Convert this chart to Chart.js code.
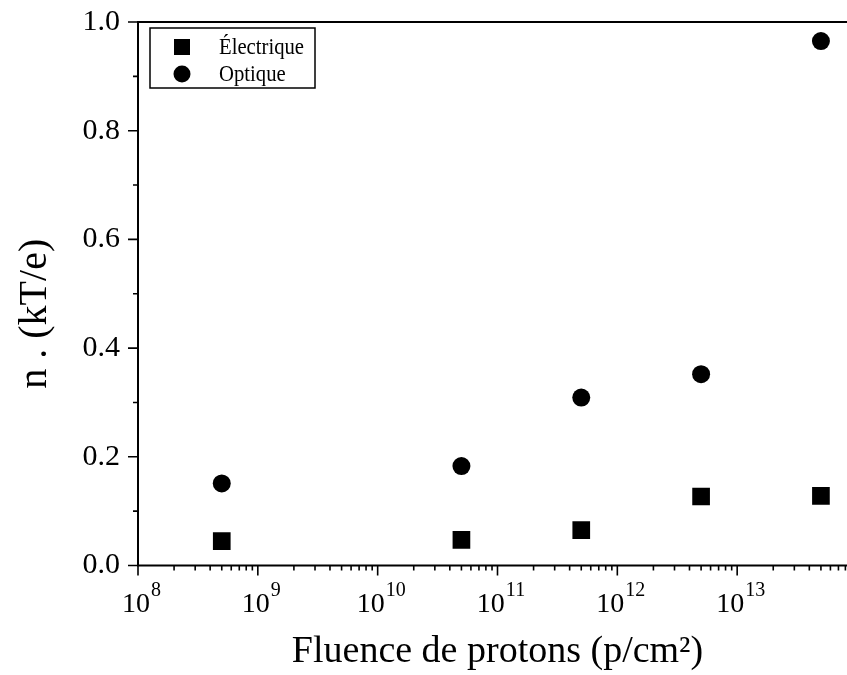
<!DOCTYPE html>
<html>
<head>
<meta charset="utf-8">
<script src="https://cdn.jsdelivr.net/npm/chart.js@4"></script>
<style>
  html, body { margin: 0; padding: 0; overflow: hidden; background: #fff; }
  #wrap { width: 870px; height: 675px; }
</style>
</head>
<body>
<div id="wrap"><canvas id="nChart" width="870" height="675"></canvas></div>
<script>
// fluence (p/cm2) and ideality factor n
const fluence = [5e8, 5e10, 5e11, 5e12, 5e13];
const electrique = [0.045, 0.047, 0.065, 0.127, 0.128];
const optique = [0.151, 0.183, 0.309, 0.352, 0.965];

const xExponents = [8, 9, 10, 11, 12, 13];
const yLabels = ["0.0", "0.2", "0.4", "0.6", "0.8", "1.0"];

const serif = "'Liberation Serif', 'Times New Roman', serif";

// all log ticks 1..9 x 10^n, majors on decades
const xTicks = [];
xExponents.forEach((e) => {
  for (let k = 1; k <= 9; k++) xTicks.push({ value: k * Math.pow(10, e), major: k === 1 });
});
xTicks.push({ value: Math.pow(10, xExponents[xExponents.length - 1] + 1), major: true });

// frame, outward ticks, superscript decade labels and boxed legend
const framePlugin = {
  id: "frame",
  afterDraw(chart) {
    const ctx = chart.ctx;
    const { left, right, top, bottom } = chart.chartArea;
    const xs = chart.scales.x;
    const ys = chart.scales.y;
    ctx.save();
    ctx.strokeStyle = "#000";
    ctx.lineWidth = 2;
    ctx.strokeRect(left, top, right - left, bottom - top);

    ctx.lineWidth = 1.6;
    ctx.beginPath();
    xs.ticks.forEach((t) => {
      const px = xs.getPixelForValue(t.value);
      const len = t.major ? 10 : 5;
      ctx.moveTo(px, bottom);
      ctx.lineTo(px, bottom + len);
    });
    ys.ticks.forEach((t, i) => {
      const py = ys.getPixelForValue(t.value);
      const len = i % 2 === 0 ? 10 : 5;
      ctx.moveTo(left, py);
      ctx.lineTo(left - len, py);
    });
    ctx.stroke();

    // x labels: 10 with raised exponent
    ctx.fillStyle = "#000";
    ctx.textBaseline = "alphabetic";
    ctx.textAlign = "left";
    xExponents.forEach((e) => {
      const px = xs.getPixelForValue(Math.pow(10, e));
      ctx.font = "28px " + serif;
      const w1 = ctx.measureText("10").width;
      ctx.font = "20px " + serif;
      const w2 = ctx.measureText(String(e)).width;
      const x0 = px - (w1 + w2) / 2 + 3;
      ctx.font = "28px " + serif;
      ctx.fillText("10", x0, bottom + 46);
      ctx.font = "20px " + serif;
      ctx.fillText(String(e), x0 + w1 + 1, bottom + 30);
    });

    // legend
    const bx = left + 12, by = top + 6;
    ctx.lineWidth = 1.5;
    ctx.strokeRect(bx, by, 165, 60);
    chart.data.datasets.forEach((ds, i) => {
      const cy = by + 19 + i * 27;
      ctx.fillStyle = "#000";
      if (ds.pointStyle === "rect") {
        ctx.fillRect(bx + 24, cy - 8, 16, 16);
      } else {
        ctx.beginPath();
        ctx.arc(bx + 32, cy, 8.5, 0, Math.PI * 2);
        ctx.fill();
      }
      ctx.save();
      ctx.translate(bx + 69, cy + 7);
      ctx.scale(0.9, 1);
      ctx.font = "23px " + serif;
      ctx.fillText(ds.label, 0, 0);
      ctx.restore();
    });
    ctx.restore();
  },
};

const ctx = document.getElementById("nChart").getContext("2d");

const nChart = new Chart(ctx, {
  type: "scatter",
  data: {
    datasets: [
      {
        label: "Électrique",
        data: fluence.map((f, i) => ({ x: f, y: electrique[i] })),
        pointStyle: "rect",
        pointRadius: 12.5,
        backgroundColor: "#000",
        borderColor: "#000",
        borderWidth: 0,
      },
      {
        label: "Optique",
        data: fluence.map((f, i) => ({ x: f, y: optique[i] })),
        pointStyle: "circle",
        pointRadius: 9,
        backgroundColor: "#000",
        borderColor: "#000",
        borderWidth: 0,
      },
    ],
  },
  options: {
    responsive: false,
    animation: false,
    events: [],
    layout: {
      autoPadding: false,
      padding: { top: 22, right: 13, left: 0, bottom: 0 },
    },
    plugins: {
      legend: { display: false },
      tooltip: { enabled: false },
    },
    scales: {
      x: {
        type: "logarithmic",
        min: 1e8,
        max: 1e14,
        grid: { display: false, drawTicks: false },
        border: { display: false },
        ticks: { display: false, autoSkip: false },
        afterBuildTicks: (scale) => {
          scale.ticks = xTicks.map((t) => ({ value: t.value, major: t.major }));
        },
        afterFit: (scale) => {
          scale.height = 109.5;
          scale.paddingLeft = 0;
          scale.paddingRight = 0;
        },
        title: {
          display: true,
          text: "Fluence de protons (p/cm²)",
          color: "#000",
          font: { family: serif, size: 38 },
          padding: { top: 0, bottom: 0 },
        },
      },
      y: {
        type: "linear",
        min: 0,
        max: 1,
        grid: { display: false, drawTicks: false },
        border: { display: false },
        ticks: {
          stepSize: 0.1,
          autoSkip: false,
          padding: 18,
          color: "#000",
          font: { family: serif, size: 30 },
          callback: (v, i) => (i % 2 === 0 ? yLabels[i / 2] : ""),
        },
        afterFit: (scale) => {
          scale.width = 138;
          scale.paddingTop = 0;
          scale.paddingBottom = 0;
        },
        title: {
          display: true,
          text: "n . (kT/e)\u2003",
          color: "#000",
          font: { family: serif, size: 40 },
          padding: { top: 11, bottom: 0 },
        },
      },
    },
  },
  plugins: [framePlugin],
});
</script>
</body>
</html>
